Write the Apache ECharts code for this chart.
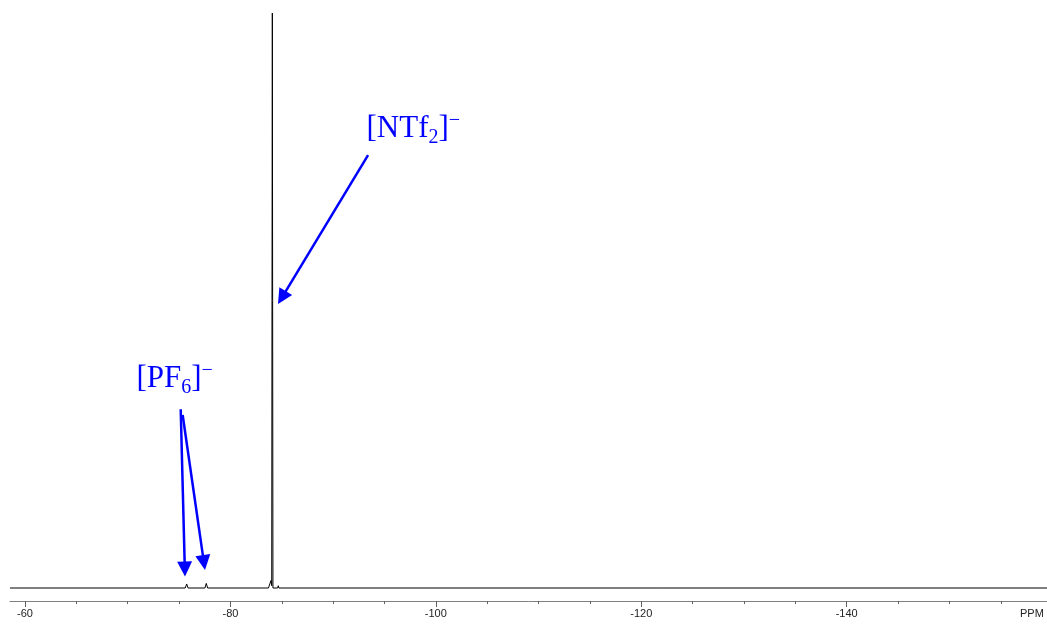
<!DOCTYPE html>
<html>
<head>
<meta charset="utf-8">
<script src="https://cdn.jsdelivr.net/npm/echarts@6/dist/echarts.min.js"></script>
<style>
  html, body { margin: 0; padding: 0; background: #fff; }
  #chart { width: 1047px; height: 627px; }
</style>
</head>
<body>
<div id="chart"></div>
<script>
// Spectrum (chemical shift in ppm, relative intensity)
const ppm = [-58.54, -75.60, -75.74, -75.88, -77.52, -77.65, -77.78, -83.70, -83.76, -83.82, -83.89, -83.95, -84.02, -84.08, -84.14, -84.60, -84.66, -84.72, -159.5];
const intensity = [0, 0, 0.7, 0, 0, 0.8, 0, 0, 0.3, 0, 0, 1.3, 0.4, 100, 0, 0, 0.4, 0, 0];

// Axis ticks
const majorTicks = [-60, -80, -100, -120, -140];
const minorTicks = [-65, -70, -75, -85, -90, -95, -105, -110, -115, -125, -130, -135, -145, -150, -155];
const axisUnit = 'PPM';

// Annotations: label anchor (ppm, intensity) and arrows [start, end]
const labelNTf2 = [-93.30, 76.52];
const labelPF6 = [-70.90, 33.04];
const arrowNTf2 = [[-93.40, 75.30], [-85.01, 50.50]];
const arrowPF6a = [[-75.16, 31.08], [-75.56, 3.30]];
const arrowPF6b = [[-75.35, 30.09], [-77.42, 4.42]];

const data = ppm.map((p, i) => [p, intensity[i]]);
const blue = '#0000ff';

const richStyle = {
  b: { fontFamily: 'Liberation Serif', fontSize: 31, lineHeight: 37, color: blue },
  s: { fontFamily: 'Liberation Serif', fontSize: 20, lineHeight: 23, color: blue, verticalAlign: 'bottom' },
  u: { fontFamily: 'Liberation Serif', fontSize: 20, lineHeight: 1, color: blue, verticalAlign: 'top' }
};

const chart = echarts.init(document.getElementById('chart'), null, { renderer: 'canvas' });
chart.setOption({
  animation: false,
  backgroundColor: '#ffffff',
  grid: { left: 10, right: 0, top: 13, bottom: 26, containLabel: false },
  xAxis: [{
    type: 'value',
    inverse: true,
    min: -159.5,
    max: -58.54,
    position: 'bottom',
    splitLine: { show: false },
    axisLine: { show: true, onZero: false, lineStyle: { color: '#808080', width: 1 } },
    axisTick: { show: true, length: 6, customValues: majorTicks, lineStyle: { color: '#606060', width: 1 } },
    axisLabel: {
      show: true, customValues: majorTicks, margin: 7,
      fontFamily: 'Liberation Sans', fontSize: 11, color: '#222',
      formatter: v => String(v)
    }
  }, {
    type: 'value',
    inverse: true,
    min: -159.5,
    max: -58.54,
    position: 'bottom',
    splitLine: { show: false },
    axisLine: { show: false, onZero: false },
    axisTick: { show: true, length: 3, customValues: minorTicks, lineStyle: { color: '#606060', width: 1 } },
    axisLabel: { show: false }
  }],
  yAxis: { type: 'value', min: -2.26, max: 100, show: false, splitLine: { show: false } },
  graphic: [{
    type: 'text', left: 1020, top: 608,
    style: { text: axisUnit, font: '11px "Liberation Sans"', fill: '#222' }
  }],
  series: [{
    type: 'line',
    xAxisIndex: 0,
    data: data,
    symbol: 'none',
    lineStyle: { color: '#000', width: 1 },
    silent: true,
    markLine: {
      silent: true,
      symbol: ['none', 'triangle'],
      symbolSize: 15,
      label: { show: false },
      lineStyle: { color: blue, width: 2.5, type: 'solid' },
      itemStyle: { color: blue },
      data: [
        [{ coord: arrowNTf2[0] }, { coord: arrowNTf2[1] }],
        [{ coord: arrowPF6a[0] }, { coord: arrowPF6a[1] }],
        [{ coord: arrowPF6b[0] }, { coord: arrowPF6b[1] }]
      ]
    },
    markPoint: {
      silent: true,
      symbol: 'circle',
      symbolSize: 1,
      itemStyle: { color: 'rgba(0,0,0,0)' },
      label: {
        show: true,
        position: [0, 0],
        align: 'left',
        verticalAlign: 'bottom',
        rich: richStyle
      },
      data: [
        { coord: labelNTf2, label: { formatter: '{b|[NTf}{s|2}{b|]}{u|−}' } },
        { coord: labelPF6, label: { formatter: '{b|[PF}{s|6}{b|]}{u|−}' } }
      ]
    }
  }]
});
</script>
</body>
</html>
